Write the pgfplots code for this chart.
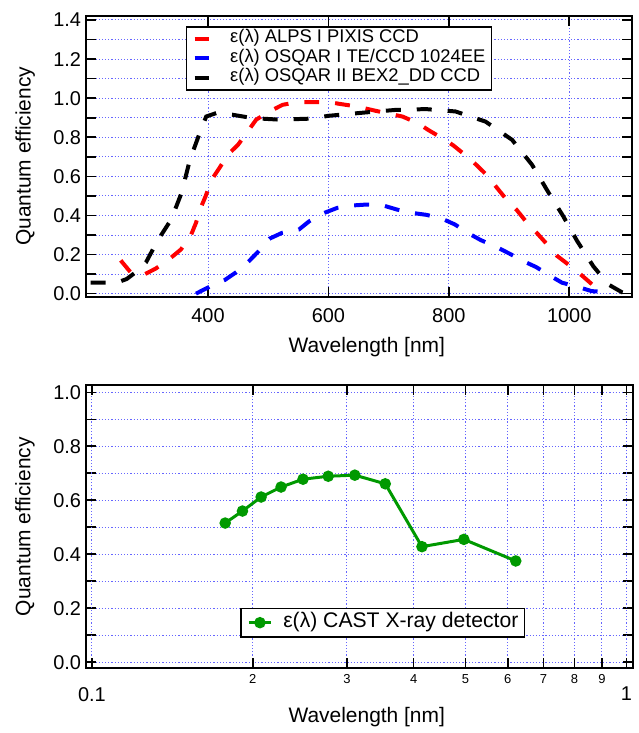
\documentclass[border=0pt]{standalone}
\usepackage{fontspec}
\setmainfont{Liberation Sans}
\usepackage{pgfplots}
\pgfplotsset{compat=1.18}
\definecolor{gridblue}{rgb}{0.4,0.4,1}
\definecolor{qgreen}{rgb}{0,0.6,0}
\newcommand{\sm}{\fontsize{6.5}{7.5}\selectfont}
\pgfplotsset{
 qe/.style={
  scale only axis,
  axis line style={line width=1pt},
  tick align=inside,
  xtick pos=both, ytick pos=both,
  major tick length=5pt, minor tick length=5pt,
  tick style={black, line width=0.8pt},
  major grid style={gridblue, dash pattern=on 0.6pt off 1pt, line width=0.5pt},
  minor grid style={gridblue, dash pattern=on 0.6pt off 1pt, line width=0.5pt},
  /pgf/number format/assume math mode=true,
  tick label style={font=\fontsize{10}{12}\selectfont},
  label style={font=\fontsize{10.5}{12.6}\selectfont},
  ylabel={Quantum efficiency},
  xlabel={Wavelength [nm]},
  y tick label style={/pgf/number format/.cd, fixed, fixed zerofill, precision=1, /tikz/.cd, inner sep=0pt, xshift=-2.2pt},
  ymajorgrids, yminorgrids,
 }
}
\begin{document}
\begin{tikzpicture}
% ---------------- top axis ----------------
\begin{axis}[qe, at={(43pt,217.65pt)}, anchor=south west, width=274pt, height=141pt,
  xmin=197, xmax=1105, ymin=-0.017, ymax=1.422,
  xtick={400,600,800,1000}, xticklabels={400,600,800,1000},
  x tick label style={inner sep=0pt, yshift=-5.4pt},
  ytick={0,0.2,0.4,0.6,0.8,1.0,1.2,1.4},
  minor ytick={0.1,0.3,0.5,0.7,0.9,1.1,1.3},
  xmajorgrids,
  xlabel style={at={(axis description cs:0.514,-0.178)}, anchor=center},
  ylabel style={at={(axis description cs:-0.111,0.5)}, anchor=center},
  legend cell align=left,
  legend image code/.code={\draw[#1, solid] (0pt,0pt) -- (7.3pt,0pt); \path[draw=none] (0pt,0pt) -- (17.8pt,0pt);},
  legend style={at={(0.1825,0.9635)}, anchor=north west, draw=black, line width=0.8pt,
    font=\fontsize{9.2}{11}\selectfont, inner xsep=3.2pt, inner ysep=1.2pt,
    nodes={inner sep=0pt, text height=6.8pt, text depth=2.95pt}},
]
\addplot[red, line width=2pt, dash pattern=on 7.5pt off 8pt] coordinates {
(255,0.17) (272,0.107) (282,0.095) (294,0.098) (313,0.128) (335,0.175) (355,0.226)
(371,0.294) (380,0.362) (388,0.44) (396,0.498) (406,0.583) (419,0.643) (433,0.711)
(450,0.762) (466,0.83) (480,0.89) (502,0.932) (524,0.966) (549,0.98) (574,0.98)
(601,0.98) (618,0.971) (648,0.957) (676,0.937) (701,0.92) (723,0.906) (748,0.873)
(767,0.835) (792,0.79) (808,0.757) (830,0.702) (847,0.655) (866,0.597) (880,0.541)
(898,0.473) (913,0.427) (930,0.362) (946,0.311) (965,0.246) (979,0.195) (1002,0.141)
(1021,0.093) (1040,0.042) (1045,0.064)
};
\addlegendentry{ε(λ) ALPS I PIXIS CCD}
\addplot[blue, line width=2pt, dash pattern=on 7.5pt off 8pt] coordinates {
(380,0.0) (403,0.036) (428,0.07) (447,0.11) (468,0.166) (484,0.217) (502,0.281)
(523,0.311) (551,0.328) (568,0.37) (593,0.413) (615,0.439) (640,0.451) (664,0.456)
(691,0.451) (714,0.43) (739,0.413) (763,0.403) (789,0.383) (810,0.354) (833,0.308)
(853,0.274) (878,0.24) (900,0.206) (924,0.166) (945,0.136) (969,0.09) (988,0.056)
(1015,0.034) (1037,0.013) (1062,0.008) (1068,0.0)
};
\addlegendentry{ε(λ) OSQAR I TE/CCD 1024EE}
\addplot[black, line width=2pt, dash pattern=on 7.5pt off 8pt] coordinates {
(205,0.056) (230,0.056) (250,0.058) (265,0.075) (280,0.11) (297,0.16) (316,0.27)
(339,0.38) (356,0.515) (370,0.685) (386,0.82) (397,0.906) (414,0.924) (441,0.915)
(474,0.898) (519,0.89) (568,0.895) (601,0.91) (662,0.927) (712,0.94) (762,0.944)
(811,0.932) (861,0.88) (905,0.787) (938,0.66) (966,0.515) (990,0.396) (1013,0.27)
(1040,0.14) (1065,0.047) (1087,0.008) (1095,0.0)
};
\addlegendentry{ε(λ) OSQAR II BEX2\_DD CCD}
\end{axis}
% ---------------- bottom axis ----------------
\begin{axis}[qe, xmode=log, at={(43pt,31.5pt)}, anchor=south west, width=274.5pt, height=142.15pt,
  xmin=0.0974, xmax=1.031, ymin=-0.023, ymax=1.028,
  xtick={0.2,0.3,0.4,0.5,0.6,0.7,0.8,0.9},
  xticklabels={\sm 2,\sm 3,\sm 4,\sm 5,\sm 6,\sm 7,\sm 8,\sm 9},
  x tick label style={inner sep=0pt, yshift=-3pt},
  extra x ticks={0.1,1}, extra x tick labels={0.1,1},
  extra x tick style={grid=major, tick label style={yshift=-6.25pt}},
  xmajorgrids,
  ytick={0,0.2,0.4,0.6,0.8,1.0},
  minor ytick={0.1,0.3,0.5,0.7,0.9},
  xlabel style={at={(axis description cs:0.513,-0.17)}, anchor=center},
  ylabel style={at={(axis description cs:-0.111,0.5)}, anchor=center},
  legend cell align=left,
  legend image code/.code={\draw[mark repeat=2,mark phase=2,#1] plot coordinates {(0pt,0pt) (5.5pt,0pt) (11pt,0pt)}; \path[draw=none] (0pt,0pt) -- (17.2pt,0pt);},
  legend style={at={(0.2823,0.108)}, anchor=south west, draw=black, line width=0.8pt,
    font=\fontsize{10.6}{12.5}\selectfont, inner xsep=3.15pt, inner ysep=2pt,
    nodes={inner sep=0pt, text height=7.6pt, text depth=2.7pt}},
]
\addplot[qgreen, line width=1.5pt, mark=*, mark size=2.1pt, mark options={solid}] coordinates {
(0.1776,0.5155) (0.1913,0.560) (0.2073,0.612) (0.2259,0.649) (0.2483,0.678)
(0.2768,0.689) (0.3104,0.693) (0.3539,0.661) (0.4145,0.428) (0.4966,0.455) (0.621,0.375)
};
\addlegendentry{ε(λ) CAST X-ray detector}
\end{axis}
\path (0pt,0pt) rectangle (320pt,366.5pt);
\end{tikzpicture}
\end{document}
